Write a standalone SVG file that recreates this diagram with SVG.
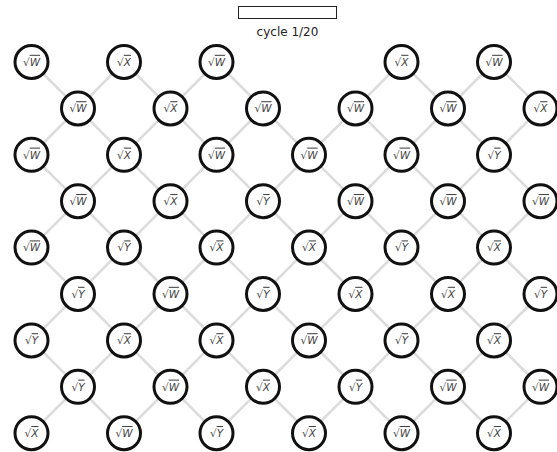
<svg xmlns="http://www.w3.org/2000/svg" width="557" height="452" viewBox="0 0 557 452">
<style>
.edge{fill:none;stroke:#dcdcdc;stroke-width:2.6;stroke-linejoin:miter}
.q circle{fill:#fff;stroke:#111;stroke-width:3}
.q text{font-family:"DejaVu Sans",sans-serif;font-size:10.5px;fill:#444;text-anchor:middle}
.v{font-style:italic;text-decoration:overline}
.t{font-family:"DejaVu Sans",sans-serif;font-size:12px;fill:#222;text-anchor:middle}
</style>
<rect width="557" height="452" fill="#fff"/>
<g id="progress">
<rect x="238.5" y="6.5" width="98" height="12" fill="#fff" stroke="#222" stroke-width="1"/>
<text class="t" x="287.5" y="36">cycle 1/20</text>
</g>
<g id="connectors">
<path class="edge" d="M31.5 62L78 108.4L124 62L170.5 108.4L216.5 62L263 108.4M355.5 108.4L401.5 62L448 108.4L494 62L540.5 108.4"/>
<path class="edge" d="M31.5 154.8L78 108.4L124 154.8L170.5 108.4L216.5 154.8L263 108.4L309 154.8L355.5 108.4L401.5 154.8L448 108.4L494 154.8L540.5 108.4"/>
<path class="edge" d="M31.5 154.8L78 201.2L124 154.8L170.5 201.2L216.5 154.8L263 201.2L309 154.8L355.5 201.2L401.5 154.8L448 201.2L494 154.8L540.5 201.2"/>
<path class="edge" d="M31.5 247.6L78 201.2L124 247.6L170.5 201.2L216.5 247.6L263 201.2L309 247.6L355.5 201.2L401.5 247.6L448 201.2L494 247.6L540.5 201.2"/>
<path class="edge" d="M31.5 247.6L78 294L124 247.6L170.5 294L216.5 247.6L263 294L309 247.6L355.5 294L401.5 247.6L448 294L494 247.6L540.5 294"/>
<path class="edge" d="M31.5 340.4L78 294L124 340.4L170.5 294L216.5 340.4L263 294L309 340.4L355.5 294L401.5 340.4L448 294L494 340.4L540.5 294"/>
<path class="edge" d="M31.5 340.4L78 386.8L124 340.4L170.5 386.8L216.5 340.4L263 386.8L309 340.4L355.5 386.8L401.5 340.4L448 386.8L494 340.4L540.5 386.8"/>
<path class="edge" d="M31.5 433.2L78 386.8L124 433.2L170.5 386.8L216.5 433.2L263 386.8L309 433.2L355.5 386.8L401.5 433.2L448 386.8L494 433.2L540.5 386.8"/>
</g>
<g id="nodes">
<g id="q0-0" class="q"><circle cx="31.5" cy="62" r="16.5"/><text x="31.5" y="65.8">√<tspan class="v">W</tspan></text></g>
<g id="q0-1" class="q"><circle cx="124" cy="62" r="16.5"/><text x="124" y="65.8">√<tspan class="v">X</tspan></text></g>
<g id="q0-2" class="q"><circle cx="216.5" cy="62" r="16.5"/><text x="216.5" y="65.8">√<tspan class="v">W</tspan></text></g>
<g id="q0-4" class="q"><circle cx="401.5" cy="62" r="16.5"/><text x="401.5" y="65.8">√<tspan class="v">X</tspan></text></g>
<g id="q0-5" class="q"><circle cx="494" cy="62" r="16.5"/><text x="494" y="65.8">√<tspan class="v">W</tspan></text></g>

<g id="q1-0" class="q"><circle cx="78" cy="108.4" r="16.5"/><text x="78" y="112.2">√<tspan class="v">W</tspan></text></g>
<g id="q1-1" class="q"><circle cx="170.5" cy="108.4" r="16.5"/><text x="170.5" y="112.2">√<tspan class="v">X</tspan></text></g>
<g id="q1-2" class="q"><circle cx="263" cy="108.4" r="16.5"/><text x="263" y="112.2">√<tspan class="v">W</tspan></text></g>
<g id="q1-3" class="q"><circle cx="355.5" cy="108.4" r="16.5"/><text x="355.5" y="112.2">√<tspan class="v">W</tspan></text></g>
<g id="q1-4" class="q"><circle cx="448" cy="108.4" r="16.5"/><text x="448" y="112.2">√<tspan class="v">W</tspan></text></g>
<g id="q1-5" class="q"><circle cx="540.5" cy="108.4" r="16.5"/><text x="540.5" y="112.2">√<tspan class="v">X</tspan></text></g>

<g id="q2-0" class="q"><circle cx="31.5" cy="154.8" r="16.5"/><text x="31.5" y="158.6">√<tspan class="v">W</tspan></text></g>
<g id="q2-1" class="q"><circle cx="124" cy="154.8" r="16.5"/><text x="124" y="158.6">√<tspan class="v">X</tspan></text></g>
<g id="q2-2" class="q"><circle cx="216.5" cy="154.8" r="16.5"/><text x="216.5" y="158.6">√<tspan class="v">W</tspan></text></g>
<g id="q2-3" class="q"><circle cx="309" cy="154.8" r="16.5"/><text x="309" y="158.6">√<tspan class="v">W</tspan></text></g>
<g id="q2-4" class="q"><circle cx="401.5" cy="154.8" r="16.5"/><text x="401.5" y="158.6">√<tspan class="v">W</tspan></text></g>
<g id="q2-5" class="q"><circle cx="494" cy="154.8" r="16.5"/><text x="494" y="158.6">√<tspan class="v">Y</tspan></text></g>

<g id="q3-0" class="q"><circle cx="78" cy="201.2" r="16.5"/><text x="78" y="205">√<tspan class="v">W</tspan></text></g>
<g id="q3-1" class="q"><circle cx="170.5" cy="201.2" r="16.5"/><text x="170.5" y="205">√<tspan class="v">X</tspan></text></g>
<g id="q3-2" class="q"><circle cx="263" cy="201.2" r="16.5"/><text x="263" y="205">√<tspan class="v">Y</tspan></text></g>
<g id="q3-3" class="q"><circle cx="355.5" cy="201.2" r="16.5"/><text x="355.5" y="205">√<tspan class="v">W</tspan></text></g>
<g id="q3-4" class="q"><circle cx="448" cy="201.2" r="16.5"/><text x="448" y="205">√<tspan class="v">W</tspan></text></g>
<g id="q3-5" class="q"><circle cx="540.5" cy="201.2" r="16.5"/><text x="540.5" y="205">√<tspan class="v">W</tspan></text></g>

<g id="q4-0" class="q"><circle cx="31.5" cy="247.6" r="16.5"/><text x="31.5" y="251.4">√<tspan class="v">W</tspan></text></g>
<g id="q4-1" class="q"><circle cx="124" cy="247.6" r="16.5"/><text x="124" y="251.4">√<tspan class="v">Y</tspan></text></g>
<g id="q4-2" class="q"><circle cx="216.5" cy="247.6" r="16.5"/><text x="216.5" y="251.4">√<tspan class="v">X</tspan></text></g>
<g id="q4-3" class="q"><circle cx="309" cy="247.6" r="16.5"/><text x="309" y="251.4">√<tspan class="v">X</tspan></text></g>
<g id="q4-4" class="q"><circle cx="401.5" cy="247.6" r="16.5"/><text x="401.5" y="251.4">√<tspan class="v">Y</tspan></text></g>
<g id="q4-5" class="q"><circle cx="494" cy="247.6" r="16.5"/><text x="494" y="251.4">√<tspan class="v">X</tspan></text></g>

<g id="q5-0" class="q"><circle cx="78" cy="294" r="16.5"/><text x="78" y="297.8">√<tspan class="v">Y</tspan></text></g>
<g id="q5-1" class="q"><circle cx="170.5" cy="294" r="16.5"/><text x="170.5" y="297.8">√<tspan class="v">W</tspan></text></g>
<g id="q5-2" class="q"><circle cx="263" cy="294" r="16.5"/><text x="263" y="297.8">√<tspan class="v">Y</tspan></text></g>
<g id="q5-3" class="q"><circle cx="355.5" cy="294" r="16.5"/><text x="355.5" y="297.8">√<tspan class="v">X</tspan></text></g>
<g id="q5-4" class="q"><circle cx="448" cy="294" r="16.5"/><text x="448" y="297.8">√<tspan class="v">X</tspan></text></g>
<g id="q5-5" class="q"><circle cx="540.5" cy="294" r="16.5"/><text x="540.5" y="297.8">√<tspan class="v">Y</tspan></text></g>

<g id="q6-0" class="q"><circle cx="31.5" cy="340.4" r="16.5"/><text x="31.5" y="344.2">√<tspan class="v">Y</tspan></text></g>
<g id="q6-1" class="q"><circle cx="124" cy="340.4" r="16.5"/><text x="124" y="344.2">√<tspan class="v">X</tspan></text></g>
<g id="q6-2" class="q"><circle cx="216.5" cy="340.4" r="16.5"/><text x="216.5" y="344.2">√<tspan class="v">X</tspan></text></g>
<g id="q6-3" class="q"><circle cx="309" cy="340.4" r="16.5"/><text x="309" y="344.2">√<tspan class="v">W</tspan></text></g>
<g id="q6-4" class="q"><circle cx="401.5" cy="340.4" r="16.5"/><text x="401.5" y="344.2">√<tspan class="v">Y</tspan></text></g>
<g id="q6-5" class="q"><circle cx="494" cy="340.4" r="16.5"/><text x="494" y="344.2">√<tspan class="v">X</tspan></text></g>

<g id="q7-0" class="q"><circle cx="78" cy="386.8" r="16.5"/><text x="78" y="390.6">√<tspan class="v">Y</tspan></text></g>
<g id="q7-1" class="q"><circle cx="170.5" cy="386.8" r="16.5"/><text x="170.5" y="390.6">√<tspan class="v">W</tspan></text></g>
<g id="q7-2" class="q"><circle cx="263" cy="386.8" r="16.5"/><text x="263" y="390.6">√<tspan class="v">X</tspan></text></g>
<g id="q7-3" class="q"><circle cx="355.5" cy="386.8" r="16.5"/><text x="355.5" y="390.6">√<tspan class="v">Y</tspan></text></g>
<g id="q7-4" class="q"><circle cx="448" cy="386.8" r="16.5"/><text x="448" y="390.6">√<tspan class="v">W</tspan></text></g>
<g id="q7-5" class="q"><circle cx="540.5" cy="386.8" r="16.5"/><text x="540.5" y="390.6">√<tspan class="v">W</tspan></text></g>

<g id="q8-0" class="q"><circle cx="31.5" cy="433.2" r="16.5"/><text x="31.5" y="437">√<tspan class="v">X</tspan></text></g>
<g id="q8-1" class="q"><circle cx="124" cy="433.2" r="16.5"/><text x="124" y="437">√<tspan class="v">W</tspan></text></g>
<g id="q8-2" class="q"><circle cx="216.5" cy="433.2" r="16.5"/><text x="216.5" y="437">√<tspan class="v">Y</tspan></text></g>
<g id="q8-3" class="q"><circle cx="309" cy="433.2" r="16.5"/><text x="309" y="437">√<tspan class="v">X</tspan></text></g>
<g id="q8-4" class="q"><circle cx="401.5" cy="433.2" r="16.5"/><text x="401.5" y="437">√<tspan class="v">W</tspan></text></g>
<g id="q8-5" class="q"><circle cx="494" cy="433.2" r="16.5"/><text x="494" y="437">√<tspan class="v">X</tspan></text></g>
</g>
</svg>
